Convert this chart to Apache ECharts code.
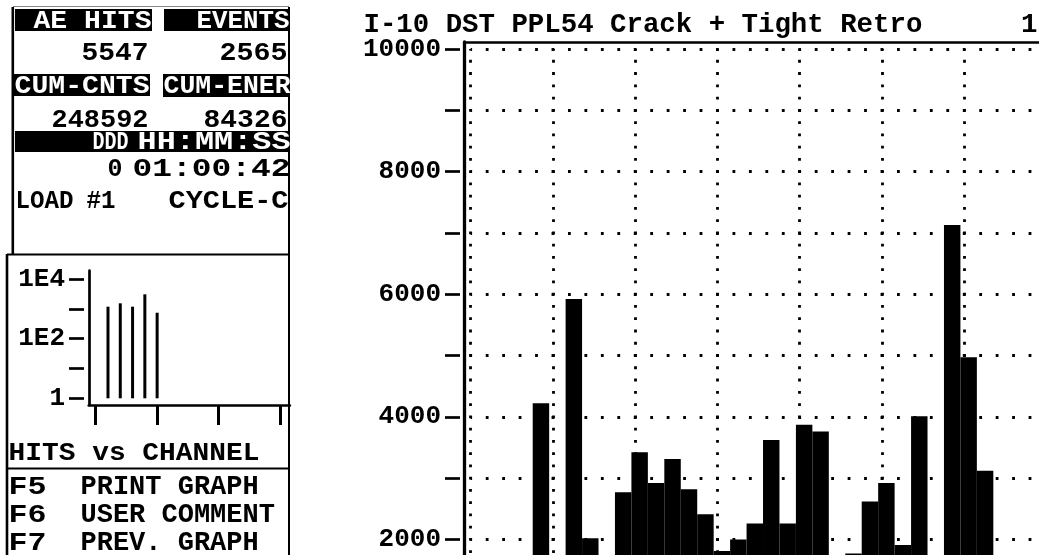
<!DOCTYPE html>
<html>
<head>
<meta charset="utf-8">
<script src="https://cdn.jsdelivr.net/npm/echarts@6/dist/echarts.min.js"></script>
<style>
  html, body { margin: 0; padding: 0; background: #fff; }
  #chart { width: 1039px; height: 555px; }
</style>
</head>
<body>
<div id="chart"></div>
<script>
// ---- data ----
const chartTitle = 'I-10 DST PPL54 Crack + Tight Retro      1';

// histogram counts per bin (null = empty bin)
const binCounts = [null, null, null, null, 4220, null, 5920, 2020, null, 2770,
                   3420, 2920, 3310, 2820, 2410, 1810, 2000, 2260, 3620, 2260,
                   3870, 3760, null, 1770, 2620, 2920, 1910, 4010, null, 7130,
                   4970, 3120];
const yLabelValues = [2000, 4000, 6000, 8000, 10000];

// hits per channel (log scale inset)
const channels = [1, 2, 3, 4, 5];
const channelHits = [1180, 1530, 1180, 3060, 740];
const logLabels = { 1: '1', 100: '1E2', 10000: '1E4' };

// status panel
const aeHits = '5547';
const events = '2565';
const cumCounts = '248592';
const cumEnergy = '84326';
const elapsedDays = '0';
const elapsedTime = '01:00:42';
const loadLabel = ['LOAD', '#1'];
const cycleLabel = 'CYCLE-C';
const insetCaption = 'HITS vs CHANNEL';
const functionKeys = [['F5', 'PRINT GRAPH'], ['F6', 'USER COMMENT'], ['F7', 'PREV. GRAPH']];

// ---- drawing ----
const FONT = '"Liberation Mono", "DejaVu Sans Mono", monospace';
const font = (px) => `bold ${px}px ${FONT}`;
const BIN_SHIFT = -0.23;   // bins start slightly left of the dotted grid columns

const measureCtx = document.createElement('canvas').getContext('2d');

// text stretched horizontally so its ink runs from x0 to x1
function fit(text, x0, x1, y, fill) {
  measureCtx.font = font(26);
  const w = measureCtx.measureText(text).width;
  const left = x0 - 1.5, width = (x1 - x0) + 3;
  return {
    type: 'text', x: left, y: y, scaleX: width / w, silent: true,
    style: { text: text, font: font(26), fill: fill || '#000', align: 'left', verticalAlign: 'middle' }
  };
}
function txt(text, x, y, align, fill, px) {
  return {
    type: 'text', x: x, y: y, silent: true,
    style: { text: text, font: font(px || 26), fill: fill || '#000',
             align: align || 'left', verticalAlign: 'middle' }
  };
}
function box(x, y, w, h) {
  return { type: 'rect', silent: true, shape: { x: x, y: y, width: w, height: h }, style: { fill: '#000' } };
}
function rule(x1, y1, x2, y2, w, c) {
  return { type: 'line', silent: true, shape: { x1: x1, y1: y1, x2: x2, y2: y2 },
           style: { stroke: c || '#000', lineWidth: w || 2.5 } };
}

const W = '#fff';
const panel = [
  rule(12.8, 7, 12.8, 254, 2.6),
  rule(7, 254, 7, 555, 2.6),
  rule(289, 7, 289, 555, 2),
  rule(13, 6.5, 289, 6.5, 1, '#888'),
  box(15, 9, 137, 22), fit('AE HITS', 35, 150, 21, W),
  box(164, 9, 126, 22), fit('EVENTS', 198, 288, 21, W),
  fit(aeHits, 83, 147, 53), fit(events, 221, 286, 53),
  box(13, 74, 137, 22), fit('CUM-CNTS', 16, 148, 86, W),
  box(163, 74, 127, 23), fit('CUM-ENER', 165, 289, 86, W),
  fit(cumCounts, 53, 147, 120), fit(cumEnergy, 205, 286, 120),
  box(15, 131, 275, 21), fit('DDD', 94, 127, 142, W), fit('HH:MM:SS', 139, 289, 142, W),
  fit(elapsedDays, 109, 121, 169), fit(elapsedTime, 134, 289, 169),
  fit(loadLabel[0], 17, 72, 201), fit(loadLabel[1], 88, 114, 201), fit(cycleLabel, 170, 287, 201),
  rule(7, 254.5, 289, 254.5, 2),
  fit(insetCaption, 10, 258, 453),
  rule(7, 468.5, 289, 468.5, 2)
];
functionKeys.forEach(function (row, i) {
  const y = 487 + i * 28;
  panel.push(fit(row[0], 10, 45, y), txt(row[1], 80.5, y, 'left', '#000', 27));
});
panel.push(txt(chartTitle, 363.5, 25, 'left', '#000', 27.4));

const histData = binCounts.map(function (v, i) { return [i, v]; }).filter(function (d) { return d[1] != null; });

const hidden = { show: false };
function frameAxis(extra) {
  return Object.assign({ type: 'value', min: 0, max: 1,
    axisLine: { onZero: false, lineStyle: { color: '#000', width: 2.7 } },
    axisTick: hidden, axisLabel: hidden, splitLine: hidden }, extra);
}
const labelStyle = { color: '#000', fontFamily: FONT, fontWeight: 'bold', fontSize: 26, margin: 19 };

const chart = echarts.init(document.getElementById('chart'), null, { renderer: 'canvas' });
chart.setOption({
  animation: false,
  backgroundColor: '#fff',
  grid: [
    { left: 464.3, top: 42, width: 700, height: 700, outerBoundsMode: 'none' },     // 0 main frame
    { left: 470.7, top: 49, width: 658, height: 613, outerBoundsMode: 'none' },     // 1 main plot
    { left: 460, top: 49, width: 10, height: 613, outerBoundsMode: 'none' },        // 2 main value ticks
    { left: 88.8, top: 270.7, width: 201, height: 134.3, outerBoundsMode: 'none' }, // 3 inset frame
    { left: 95.7, top: 279, width: 184.3, height: 119.3, outerBoundsMode: 'none' }, // 4 inset plot
    { left: 84, top: 279, width: 10, height: 119.3, outerBoundsMode: 'none' },      // 5 inset log ticks
    { left: 95.7, top: 279, width: 184.3, height: 126, outerBoundsMode: 'none' }    // 6 inset channel ticks
  ],
  xAxis: [
    frameAxis({ gridIndex: 0, position: 'top' }),
    { gridIndex: 1, type: 'value', min: 0, max: 40, interval: 5,
      axisLine: hidden, axisTick: hidden, axisLabel: hidden,
      splitLine: { show: true, lineStyle: { color: '#000', width: 2.8, type: [2.8, 9.46], dashOffset: 1.4 } } },
    { gridIndex: 2, type: 'value', show: false },
    frameAxis({ gridIndex: 3 }),
    { gridIndex: 4, type: 'value', min: 0, max: 15, show: false },
    { gridIndex: 5, type: 'value', show: false },
    { gridIndex: 6, type: 'value', min: 0, max: 15, interval: 5,
      axisLine: hidden, axisLabel: hidden, splitLine: hidden,
      axisTick: { show: true, length: 20, lineStyle: { color: '#000', width: 3 } } }
  ],
  yAxis: [
    frameAxis({ gridIndex: 0, axisLine: { onZero: false, lineStyle: { color: '#000', width: 3.3 } } }),
    { gridIndex: 1, type: 'value', min: 0, max: 10000, interval: 1000,
      axisLine: hidden, axisTick: hidden, axisLabel: hidden,
      splitLine: { show: true, lineStyle: { color: '#000', width: 2.8, type: [2.8, 13.65], dashOffset: 1.4 } } },
    { gridIndex: 2, type: 'value', min: 0, max: 10000, interval: 1000,
      axisLine: hidden, splitLine: hidden,
      axisTick: { show: true, length: 15, lineStyle: { color: '#000', width: 2.7 } },
      axisLabel: Object.assign({ formatter: function (v) { return yLabelValues.indexOf(v) >= 0 ? String(v) : ''; } }, labelStyle) },
    frameAxis({ gridIndex: 3 }),
    { gridIndex: 4, type: 'log', logBase: 10, min: 1, max: 10000, show: false },
    { gridIndex: 5, type: 'log', logBase: 10, min: 1, max: 10000,
      axisLine: hidden, splitLine: hidden,
      axisTick: { show: true, length: 15, lineStyle: { color: '#000', width: 2.7 } },
      axisLabel: Object.assign({ formatter: function (v) { return logLabels[Math.round(v)] || ''; } }, labelStyle) },
    { gridIndex: 6, type: 'value', show: false }
  ],
  series: [
    { type: 'custom', xAxisIndex: 1, yAxisIndex: 1, data: histData,
      renderItem: function (params, api) {
        const k = api.value(0), v = api.value(1);
        const p0 = api.coord([k + BIN_SHIFT, v]);
        const p1 = api.coord([k + 1 + BIN_SHIFT, 0]);
        return { type: 'rect', shape: { x: p0[0], y: p0[1], width: p1[0] - p0[0], height: p1[1] - p0[1] },
                 style: { fill: '#000' } };
      } },
    { type: 'bar', xAxisIndex: 4, yAxisIndex: 4, barWidth: 3,
      data: channels.map(function (c, i) { return [c, channelHits[i]]; }),
      itemStyle: { color: '#000' } }
  ],
  graphic: panel
});
</script>
</body>
</html>
